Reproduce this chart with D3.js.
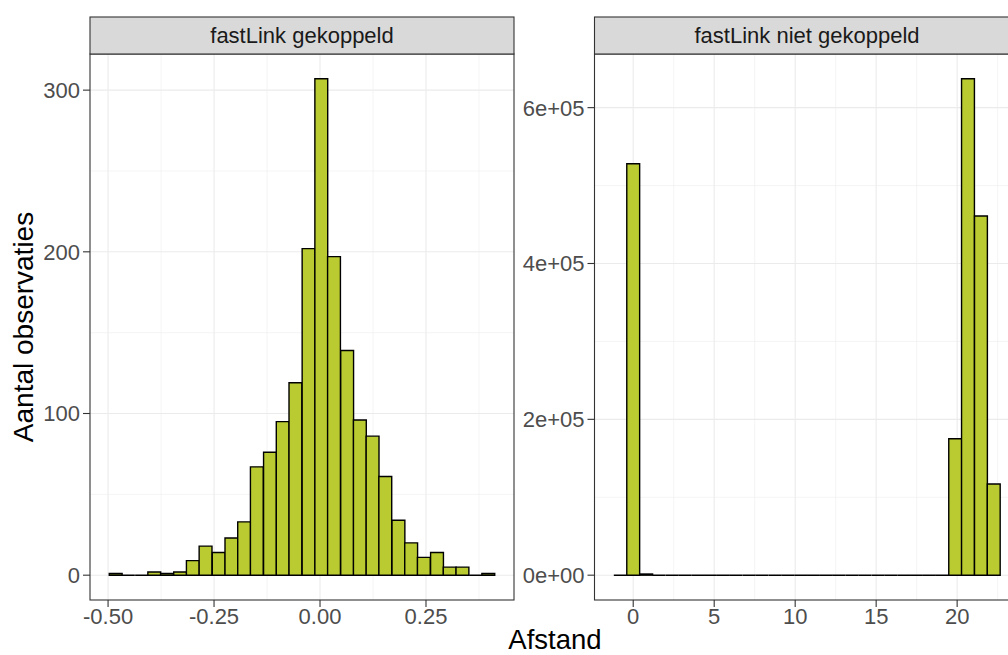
<!DOCTYPE html>
<html>
<head>
<meta charset="utf-8">
<script src="https://cdn.jsdelivr.net/npm/d3@7"></script>
<style>
  body { margin: 0; overflow: hidden; background: white; }
  text { font-family: "Liberation Sans", Arial, Helvetica, sans-serif; }
</style>
</head>
<body>
<div id="container"></div>
<script>
const width = 1008, height = 655;

// histogram bins: mid points + counts
const leftTitle = "fastLink gekoppeld";
const leftBinWidth = 0.0303;
const leftMids = [-0.482, -0.452, -0.421, -0.391, -0.361, -0.330, -0.300, -0.270, -0.239, -0.209,
                  -0.179, -0.149, -0.118, -0.088, -0.058, -0.027, 0.003, 0.033, 0.064, 0.094,
                  0.124, 0.154, 0.185, 0.215, 0.245, 0.276, 0.306, 0.336, 0.367, 0.397];
const leftCounts = [1, 0, 0, 2, 1, 2, 9, 18, 14, 23,
                    33, 67, 76, 95, 119, 202, 307, 197, 139, 96,
                    86, 61, 34, 20, 11, 14, 5, 5, 0, 1];
const leftXTicks = [-0.5, -0.25, 0, 0.25];
const leftXTickLabels = ["-0.50", "-0.25", "0.00", "0.25"];
const leftYTicks = [0, 100, 200, 300];

const rightTitle = "fastLink niet gekoppeld";
const rightBinWidth = 0.795;
const rightMids = [-0.8, 0, 0.8, 1.59, 2.39, 3.18, 3.98, 4.77, 5.57, 6.36,
                   7.16, 7.95, 8.75, 9.54, 10.34, 11.13, 11.93, 12.72, 13.52, 14.31,
                   15.11, 15.9, 16.7, 17.49, 18.29, 19.08, 19.88, 20.67, 21.47, 22.26];
const rightCounts = [0, 528000, 1500, 0, 0, 0, 0, 0, 0, 0,
                     0, 0, 0, 0, 0, 0, 0, 0, 0, 0,
                     0, 0, 0, 0, 0, 0, 175000, 637000, 461000, 117000];
const rightXTicks = [0, 5, 10, 15, 20];
const rightXTickLabels = ["0", "5", "10", "15", "20"];
const rightYTicks = [0, 200000, 400000, 600000];
const rightYTickLabels = ["0e+00", "2e+05", "4e+05", "6e+05"];

const xTitle = "Afstand";
const yTitle = "Aantal observaties";

const barFill = "#B9CB31";
const gridColor = "#EBEBEB";
const borderColor = "#333333";
const tickTextColor = "#4D4D4D";

const svg = d3.select("#container").append("svg")
    .attr("width", width)
    .attr("height", height);

const panelTop = 54, panelBottom = 600, stripTop = 17;

function expand(lo, hi) {
    const pad = (hi - lo) * 0.05;
    return [lo - pad, hi + pad];
}

function drawPanel(opts) {
    const { x0, x1, mids, counts, binWidth, title, xTicks, xLabels, yTicks, yLabels } = opts;
    const xlo = d3.min(mids) - binWidth / 2, xhi = d3.max(mids) + binWidth / 2;
    const x = d3.scaleLinear().domain(expand(xlo, xhi)).range([x0, x1]);
    const y = d3.scaleLinear().domain(expand(0, d3.max(counts))).range([panelBottom, panelTop]);

    const g = svg.append("g");

    g.append("rect")
        .attr("x", x0).attr("y", panelTop)
        .attr("width", x1 - x0).attr("height", panelBottom - panelTop)
        .attr("fill", "white");

    // minor grid
    const xMinor = d3.pairs(xTicks).map(p => (p[0] + p[1]) / 2);
    const step = xTicks[1] - xTicks[0];
    xMinor.unshift(xTicks[0] - step / 2);
    xMinor.push(xTicks[xTicks.length - 1] + step / 2);
    const ystep = yTicks[1] - yTicks[0];
    const yMinor = d3.pairs(yTicks).map(p => (p[0] + p[1]) / 2);
    yMinor.push(yTicks[yTicks.length - 1] + ystep / 2);
    const [dx0, dx1] = x.domain();
    const [dy0, dy1] = y.domain();

    xMinor.filter(v => v > dx0 && v < dx1).forEach(v => {
        g.append("line").attr("x1", x(v)).attr("x2", x(v))
            .attr("y1", panelTop).attr("y2", panelBottom)
            .attr("stroke", gridColor).attr("stroke-width", 0.55);
    });
    yMinor.filter(v => v > dy0 && v < dy1).forEach(v => {
        g.append("line").attr("x1", x0).attr("x2", x1)
            .attr("y1", y(v)).attr("y2", y(v))
            .attr("stroke", gridColor).attr("stroke-width", 0.55);
    });
    // major grid
    xTicks.forEach(v => {
        g.append("line").attr("x1", x(v)).attr("x2", x(v))
            .attr("y1", panelTop).attr("y2", panelBottom)
            .attr("stroke", gridColor).attr("stroke-width", 1.1);
    });
    yTicks.forEach(v => {
        g.append("line").attr("x1", x0).attr("x2", x1)
            .attr("y1", y(v)).attr("y2", y(v))
            .attr("stroke", gridColor).attr("stroke-width", 1.1);
    });

    // bars (paths so zero-height bins still show their outline)
    g.selectAll("path.bar")
        .data(mids.map((m, i) => ({ m: m, c: counts[i] })))
        .join("path")
        .attr("class", "bar")
        .attr("d", d => {
            const a = x(d.m - binWidth / 2), b = x(d.m + binWidth / 2);
            return `M${a},${y(0)}V${y(d.c)}H${b}V${y(0)}Z`;
        })
        .attr("fill", barFill)
        .attr("stroke", "black")
        .attr("stroke-width", 1.4)
        .attr("stroke-linejoin", "miter");

    // panel border
    g.append("rect")
        .attr("x", x0).attr("y", panelTop)
        .attr("width", x1 - x0).attr("height", panelBottom - panelTop)
        .attr("fill", "none").attr("stroke", borderColor).attr("stroke-width", 1.1);

    // strip
    g.append("rect")
        .attr("x", x0).attr("y", stripTop)
        .attr("width", x1 - x0).attr("height", panelTop - stripTop)
        .attr("fill", "#D9D9D9").attr("stroke", borderColor).attr("stroke-width", 1.1);
    g.append("text")
        .attr("x", (x0 + x1) / 2).attr("y", (stripTop + panelTop) / 2)
        .attr("dy", "0.36em")
        .attr("text-anchor", "middle")
        .attr("font-size", 22)
        .attr("fill", "#1A1A1A")
        .text(title);

    // x axis ticks
    xTicks.forEach((v, i) => {
        g.append("line").attr("x1", x(v)).attr("x2", x(v))
            .attr("y1", panelBottom).attr("y2", panelBottom + 7)
            .attr("stroke", borderColor).attr("stroke-width", 1.1);
        g.append("text")
            .attr("x", x(v)).attr("y", panelBottom + 24)
            .attr("text-anchor", "middle")
            .attr("font-size", 22)
            .attr("fill", tickTextColor)
            .text(xLabels[i]);
    });
    // y axis ticks
    yTicks.forEach((v, i) => {
        g.append("line").attr("x1", x0 - 7).attr("x2", x0)
            .attr("y1", y(v)).attr("y2", y(v))
            .attr("stroke", borderColor).attr("stroke-width", 1.1);
        g.append("text")
            .attr("x", x0 - 10).attr("y", y(v))
            .attr("dy", "0.36em")
            .attr("text-anchor", "end")
            .attr("font-size", 22)
            .attr("fill", tickTextColor)
            .text(yLabels[i]);
    });
}

drawPanel({
    x0: 90, x1: 514, mids: leftMids, counts: leftCounts, binWidth: leftBinWidth,
    title: leftTitle, xTicks: leftXTicks, xLabels: leftXTickLabels,
    yTicks: leftYTicks, yLabels: leftYTicks.map(String)
});

drawPanel({
    x0: 594.5, x1: 1019.5, mids: rightMids, counts: rightCounts, binWidth: rightBinWidth,
    title: rightTitle, xTicks: rightXTicks, xLabels: rightXTickLabels,
    yTicks: rightYTicks, yLabels: rightYTickLabels
});

// axis titles
svg.append("text")
    .attr("x", 555).attr("y", 649)
    .attr("text-anchor", "middle")
    .attr("font-size", 27.5)
    .attr("fill", "black")
    .text(xTitle);

svg.append("text")
    .attr("transform", `translate(33, ${(panelTop + panelBottom) / 2}) rotate(-90)`)
    .attr("text-anchor", "middle")
    .attr("font-size", 28)
    .attr("fill", "black")
    .text(yTitle);
</script>
</body>
</html>
